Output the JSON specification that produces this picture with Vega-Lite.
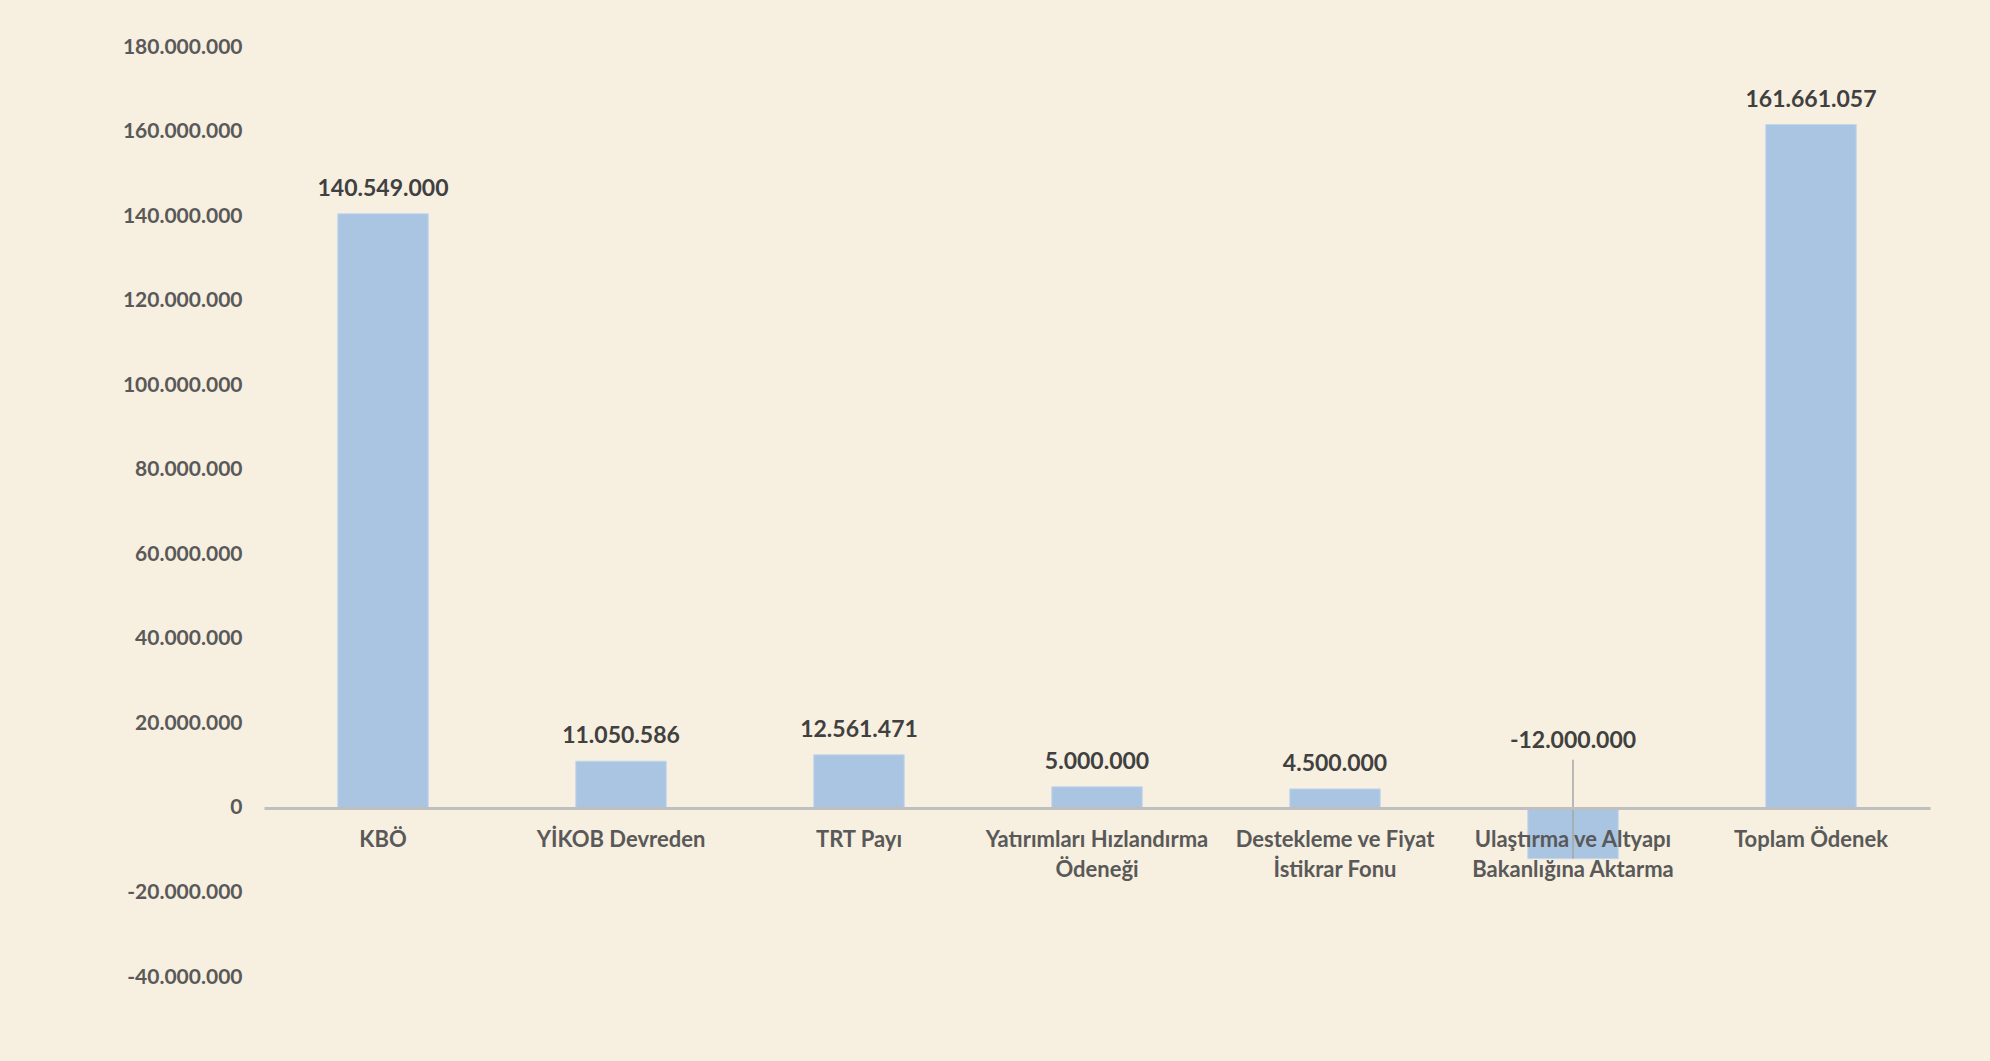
{
  "$schema": "https://vega.github.io/schema/vega-lite/v6.json",
  "width": 1666,
  "height": 930,
  "autosize": {"type": "none"},
  "padding": {"left": 264, "top": 47, "right": 60, "bottom": 84},
  "background": "#f7efdf",
  "config": {
    "view": {"stroke": null},
    "locale": {"number": {"decimal": ",", "thousands": ".", "grouping": [3], "currency": ["", ""], "minus": "-"}},
    "font": "Lato"
  },
  "data": {
    "values": [
      {"kalem": "KBÖ", "tutar": 140549000},
      {"kalem": "YİKOB Devreden", "tutar": 11050586},
      {"kalem": "TRT Payı", "tutar": 12561471},
      {"kalem": "Yatırımları Hızlandırma Ödeneği", "tutar": 5000000},
      {"kalem": "Destekleme ve Fiyat İstikrar Fonu", "tutar": 4500000},
      {"kalem": "Ulaştırma ve Altyapı Bakanlığına Aktarma", "tutar": -12000000},
      {"kalem": "Toplam Ödenek", "tutar": 161661057}
    ]
  },
  "encoding": {
    "x": {
      "field": "kalem",
      "type": "nominal",
      "sort": null,
      "title": null,
      "scale": {"paddingInner": 0.62, "paddingOuter": 0.31},
      "axis": {
        "orient": "bottom",
        "offset": -169.1,
        "zindex": 1,
        "domainColor": "#bfbfbf",
        "domainWidth": 3,
        "ticks": false,
        "labelAngle": 0,
        "labelLimit": 0,
        "labelPadding": 22,
        "labelFont": "Lato",
        "labelFontSize": 22,
        "labelFontWeight": "bold",
        "labelColor": "#595959",
        "labelLineHeight": 30,
        "labelBaseline": "top",
        "labelExpr": "datum.label == 'Yatırımları Hızlandırma Ödeneği' ? ['Yatırımları Hızlandırma', 'Ödeneği'] : datum.label == 'Destekleme ve Fiyat İstikrar Fonu' ? ['Destekleme ve Fiyat', 'İstikrar Fonu'] : datum.label == 'Ulaştırma ve Altyapı Bakanlığına Aktarma' ? ['Ulaştırma ve Altyapı', 'Bakanlığına Aktarma'] : datum.label"
      }
    }
  },
  "layer": [
    {
      "mark": {"type": "bar", "color": "#a9c5e2", "stroke": "#c3d7ec", "strokeWidth": 1},
      "encoding": {
        "y": {
          "field": "tutar",
          "type": "quantitative",
          "title": null,
          "scale": {"domain": [-40000000, 180000000], "nice": false},
          "axis": {
            "values": [-40000000, -20000000, 0, 20000000, 40000000, 60000000, 80000000, 100000000, 120000000, 140000000, 160000000, 180000000],
            "format": ",d",
            "grid": false,
            "domain": false,
            "ticks": false,
            "labelPadding": 22,
            "labelFont": "Lato",
            "labelFontSize": 21,
            "labelFontWeight": "bold",
            "labelColor": "#595959"
          }
        }
      }
    },
    {
      "transform": [{"filter": "datum.tutar < 0"}],
      "mark": {"type": "rule", "color": "#a6a6a6", "strokeWidth": 1.5},
      "encoding": {
        "y": {"field": "tutar", "type": "quantitative"},
        "y2": {"datum": 11400000}
      }
    },
    {
      "transform": [{"filter": "datum.tutar >= 0"}],
      "mark": {"type": "text", "baseline": "alphabetic", "dy": -18, "fontSize": 23, "fontWeight": "bold", "color": "#404040", "font": "Lato"},
      "encoding": {
        "y": {"field": "tutar", "type": "quantitative"},
        "text": {"field": "tutar", "type": "quantitative", "format": ",d"}
      }
    },
    {
      "transform": [{"filter": "datum.tutar < 0"}],
      "mark": {"type": "text", "baseline": "alphabetic", "dy": -60, "fontSize": 23, "fontWeight": "bold", "color": "#404040", "font": "Lato"},
      "encoding": {
        "y": {"datum": 0},
        "text": {"field": "tutar", "type": "quantitative", "format": ",d"}
      }
    }
  ]
}
